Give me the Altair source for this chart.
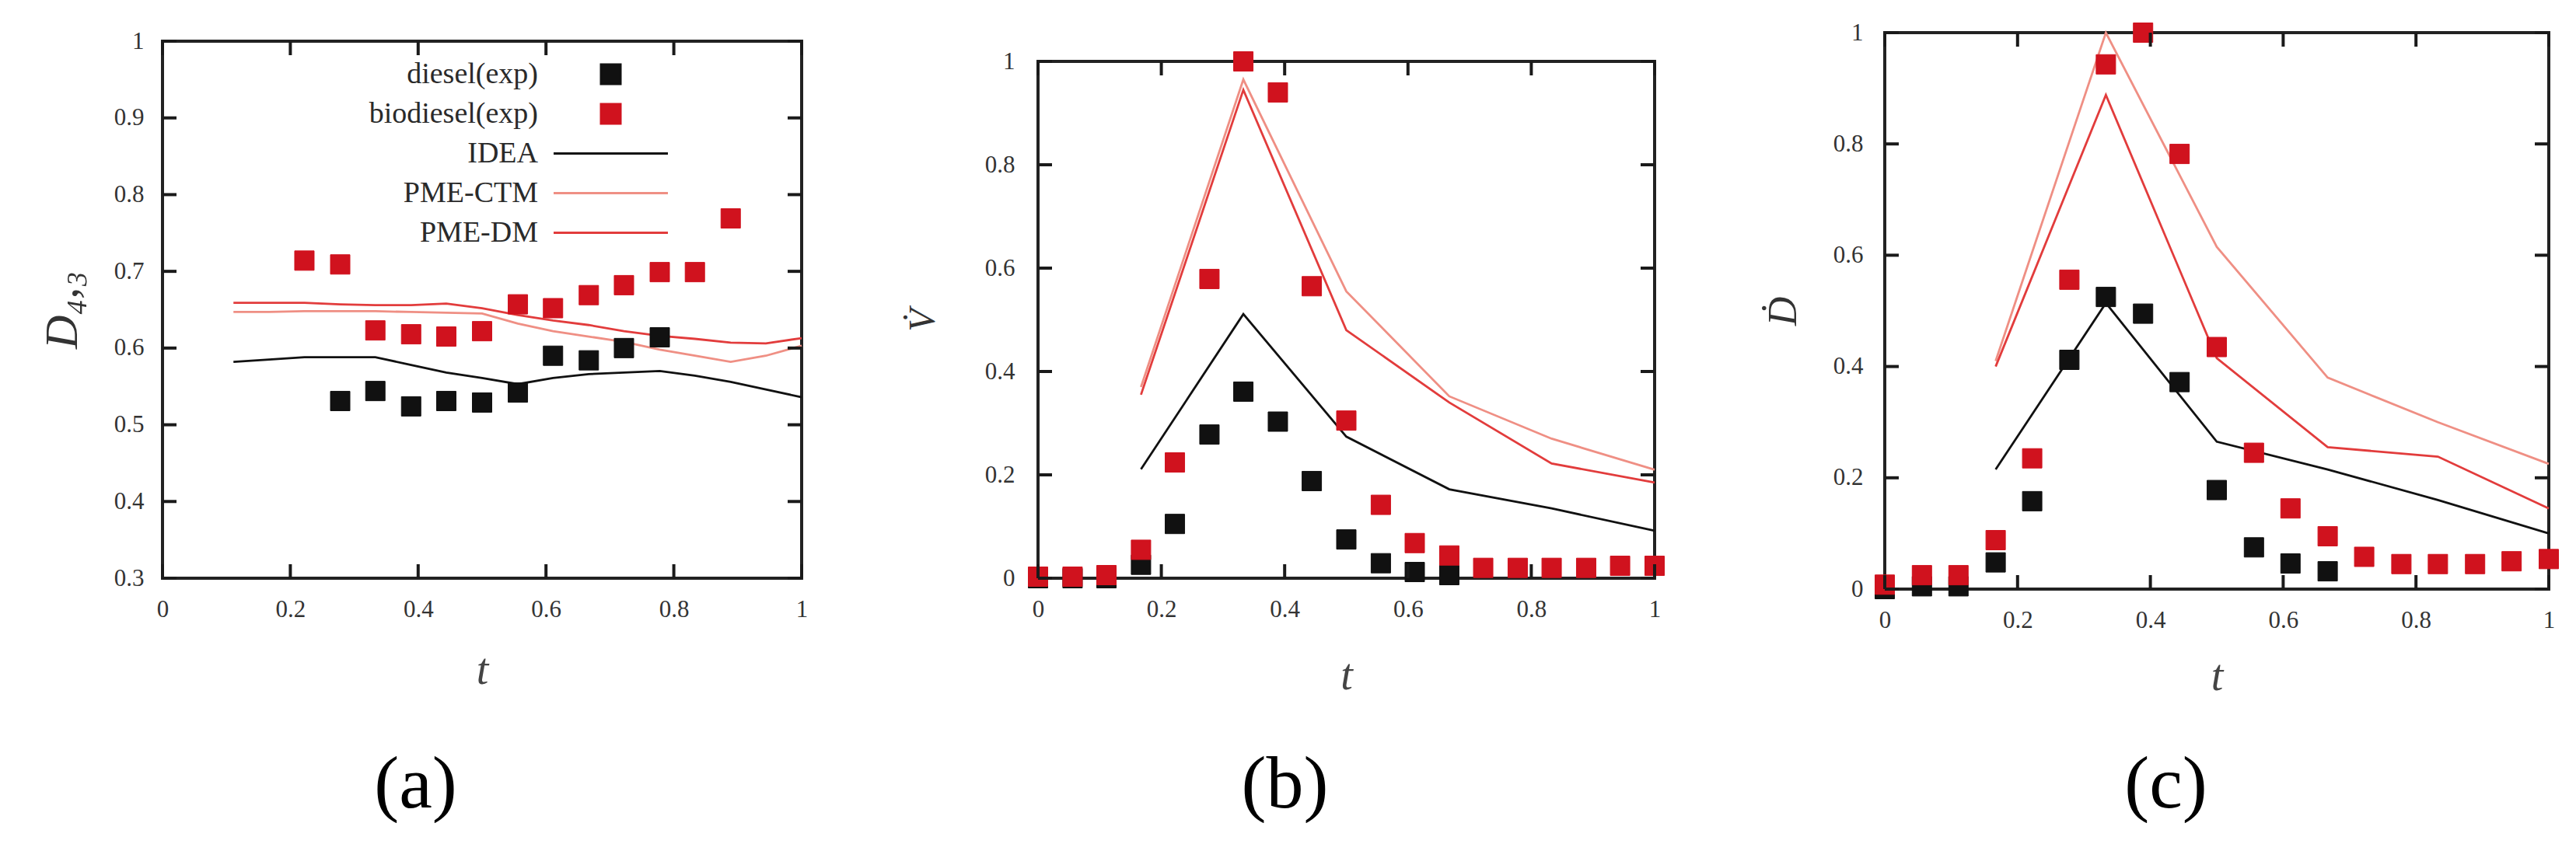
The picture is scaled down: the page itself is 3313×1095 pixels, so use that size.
import altair as alt
import pandas as pd

# ---------------- data ----------------
SERIES = ["diesel(exp)", "biodiesel(exp)", "IDEA", "PME-CTM", "PME-DM"]
SERIES_COLORS = ["#111111", "#d0121e", "#111111", "#ef8f84", "#e23c3c"]
SQUARE = "M-0.5,-0.5H0.5V0.5H-0.5Z"
LEG_SQUARE = "M4.3,-0.5H5.3V0.5H4.3Z"
LEG_LINE = "M1.86,0H7.74"
LEGEND_SHAPES = [LEG_SQUARE, LEG_SQUARE, LEG_LINE, LEG_LINE, LEG_LINE]

X_TICKS = [0, 0.2, 0.4, 0.6, 0.8, 1]
Y_TICKS_A = [0.3, 0.4, 0.5, 0.6, 0.7, 0.8, 0.9, 1]
Y_TICKS_BC = [0, 0.2, 0.4, 0.6, 0.8, 1]

X_EXP = [0.0, 0.056, 0.111, 0.167, 0.222, 0.278, 0.333, 0.389, 0.444, 0.5,
         0.556, 0.611, 0.667, 0.722, 0.778, 0.833, 0.889, 0.944, 1.0]

# panel (a): D43
A_DIESEL_X = [0.278, 0.333, 0.389, 0.444, 0.5, 0.556, 0.611, 0.667, 0.722, 0.778]
A_DIESEL_Y = [0.531, 0.544, 0.524, 0.531, 0.529, 0.542, 0.590, 0.584, 0.600, 0.614]
A_BIO_X = [0.222, 0.278, 0.333, 0.389, 0.444, 0.5, 0.556, 0.611, 0.667, 0.722, 0.778, 0.833, 0.889]
A_BIO_Y = [0.714, 0.709, 0.623, 0.618, 0.615, 0.622, 0.657, 0.652, 0.669, 0.682, 0.699, 0.699, 0.769]
A_MODEL_X = [0.111, 0.167, 0.222, 0.278, 0.333, 0.389, 0.444, 0.5, 0.556,
             0.611, 0.667, 0.722, 0.778, 0.833, 0.889, 0.944, 1.0]
A_IDEA = [0.582, 0.585, 0.588, 0.588, 0.588, 0.578, 0.568, 0.561, 0.553,
          0.561, 0.566, 0.568, 0.570, 0.564, 0.556, 0.546, 0.536]
A_CTM = [0.647, 0.647, 0.648, 0.648, 0.648, 0.647, 0.646, 0.645, 0.632,
         0.622, 0.615, 0.608, 0.598, 0.590, 0.582, 0.590, 0.603]
A_DM = [0.659, 0.659, 0.659, 0.657, 0.656, 0.656, 0.658, 0.652, 0.643,
        0.636, 0.630, 0.622, 0.616, 0.612, 0.607, 0.606, 0.613]

# panel (b): V
B_DIESEL_X = X_EXP[:13]
B_DIESEL_Y = [0.0, 0.0, 0.0, 0.026, 0.105, 0.278, 0.361, 0.303, 0.188, 0.075, 0.029, 0.012, 0.006]
B_BIO_Y = [0.003, 0.003, 0.006, 0.055, 0.224, 0.579, 1.0, 0.94, 0.565, 0.305, 0.142,
           0.068, 0.044, 0.02, 0.02, 0.02, 0.02, 0.024, 0.024]
BC_MODEL_X = [0.167, 0.333, 0.5, 0.667, 0.833, 1.0]
B_IDEA = [0.211, 0.511, 0.274, 0.172, 0.135, 0.092]
B_CTM = [0.37, 0.965, 0.555, 0.352, 0.27, 0.21]
B_DM = [0.355, 0.945, 0.48, 0.34, 0.222, 0.185]

# panel (c): D-dot
C_DIESEL_X = X_EXP[:13]
C_DIESEL_Y = [0.0, 0.005, 0.005, 0.048, 0.158, 0.412, 0.525, 0.495, 0.372, 0.178, 0.075, 0.046, 0.032]
C_BIO_Y = [0.008, 0.025, 0.025, 0.088, 0.235, 0.556, 0.943, 1.0, 0.782, 0.435, 0.245,
           0.145, 0.095, 0.058, 0.045, 0.045, 0.045, 0.05, 0.054]
C_IDEA = [0.215, 0.514, 0.265, 0.215, 0.16, 0.10]
C_CTM = [0.41, 1.0, 0.615, 0.38, 0.3, 0.225]
C_DM = [0.40, 0.888, 0.415, 0.255, 0.238, 0.145]


def pts_frame(dx, dy, bx, by):
    rows = [{"x": a, "y": b, "series": SERIES[0]} for a, b in zip(dx, dy)]
    rows += [{"x": a, "y": b, "series": SERIES[1]} for a, b in zip(bx, by)]
    return pd.DataFrame(rows)


def lines_frame(mx, idea, ctm, dm):
    rows = []
    for name, vals in ((SERIES[2], idea), (SERIES[3], ctm), (SERIES[4], dm)):
        rows += [{"x": a, "y": b, "series": name} for a, b in zip(mx, vals)]
    return pd.DataFrame(rows)


FONT = "Liberation Serif"
TL = 18
LBL = 31
TICK_COLOR = "#1a1a1a"
TICK_W = 4


def panel(pts, lines, ydom, yticks, ytitle, ytitle_size, ylab_pad, ytitle_pad,
          W, H, t_y, label, label_x, label_y, legend, spacer_h):
    xs = alt.Scale(domain=[0, 1], nice=False, zero=False)
    ys = alt.Scale(domain=ydom, nice=False, zero=False)
    common = dict(ticks=False, domain=False, grid=False, zindex=2)
    bottom = alt.Axis(orient="bottom", values=X_TICKS, format="~g",
                      labelFont=FONT, labelFontSize=LBL, labelColor="#333",
                      labelPadding=25, labelFlush=False, labelOverlap=False,
                      title="t", titleFont=FONT, titleFontStyle="italic",
                      titleFontWeight="normal", titleFontSize=56, titleColor="#444",
                      titleX=W / 2, titleY=t_y - 16, titleAlign="center",
                      titleBaseline="middle", **common)
    left = alt.Axis(orient="left", values=yticks, format="~g",
                    labelFont=FONT, labelFontSize=LBL, labelColor="#333",
                    labelPadding=ylab_pad, labelFlush=False, labelOverlap=False,
                    title=ytitle, titleFont=FONT, titleFontStyle="italic",
                    titleFontWeight="normal", titleFontSize=ytitle_size,
                    titleColor="#333", titlePadding=ytitle_pad, **common)
    top = alt.Axis(orient="top", values=X_TICKS, labels=False, title=" ",
                   titleFontSize=10, titlePadding=10, **common)
    right = alt.Axis(orient="right", values=yticks, labels=False, title=None, **common)
    caption = alt.Axis(orient="bottom", labels=False, ticks=False, domain=False,
                       grid=False, title=label, titleFont=FONT, titleFontSize=96,
                       titleFontWeight="normal", titleColor="#000",
                       titleX=label_x, titleY=label_y, titleAlign="center",
                       titleBaseline="middle")

    color_scale = alt.Scale(domain=SERIES, range=SERIES_COLORS)
    shape_scale = alt.Scale(domain=SERIES, range=LEGEND_SHAPES)

    line_layer = alt.Chart(lines).mark_line(strokeWidth=2.8).encode(
        x=alt.X("x:Q", scale=xs, axis=bottom),
        y=alt.Y("y:Q", scale=ys, axis=left),
        stroke=alt.Stroke("series:N", scale=color_scale, legend=legend),
    )
    point_layer = alt.Chart(pts).mark_point(filled=True, size=2500, opacity=1,
                                            strokeWidth=1, shape=SQUARE).encode(
        x=alt.X("x:Q", scale=xs, axis=None),
        y=alt.Y("y:Q", scale=ys, axis=None),
        fill=alt.Fill("series:N", scale=color_scale, legend=legend),
        stroke=alt.Stroke("series:N", scale=color_scale, legend=legend),
    )
    tick_layer = alt.Chart(pts).mark_point(opacity=0).encode(
        x=alt.X("x:Q", scale=xs, axis=top),
        y=alt.Y("y:Q", scale=ys, axis=right),
    )
    caption_layer = alt.Chart(pts).mark_point(opacity=0).encode(
        x=alt.X("x:Q", scale=xs, axis=caption),
        y=alt.Y("y:Q", scale=ys, axis=None),
    )

    # inward tick marks on all four sides (gnuplot style), placed by the scales
    xt = pd.DataFrame({"v": X_TICKS})
    yt = pd.DataFrame({"v": yticks})
    rule = dict(color=TICK_COLOR, strokeWidth=TICK_W)
    xt_bottom = alt.Chart(xt).mark_rule(**rule).encode(
        x=alt.X("v:Q", scale=xs, axis=None), y=alt.value(H - TL), y2=alt.value(H))
    xt_top = alt.Chart(xt).mark_rule(**rule).encode(
        x=alt.X("v:Q", scale=xs, axis=None), y=alt.value(0), y2=alt.value(TL))
    yt_left = alt.Chart(yt).mark_rule(**rule).encode(
        y=alt.Y("v:Q", scale=ys, axis=None), x=alt.value(0), x2=alt.value(TL))
    yt_right = alt.Chart(yt).mark_rule(**rule).encode(
        y=alt.Y("v:Q", scale=ys, axis=None), x=alt.value(W - TL), x2=alt.value(W))

    layers = [line_layer, point_layer, tick_layer, caption_layer,
              xt_bottom, xt_top, yt_left, yt_right]
    if legend is not None:
        legend_layer = alt.Chart(pts).transform_filter("false").mark_point(
            filled=True, size=2500, opacity=1, strokeWidth=1
        ).encode(
            x=alt.X("x:Q", scale=xs, axis=None),
            y=alt.Y("y:Q", scale=ys, axis=None),
            fill=alt.Fill("series:N", scale=color_scale, legend=legend),
            stroke=alt.Stroke("series:N", scale=color_scale, legend=legend),
            shape=alt.Shape("series:N", scale=shape_scale, legend=legend),
        )
        layers.append(legend_layer)
    body = alt.layer(*layers).resolve_axis(
        x="independent", y="independent"
    ).properties(width=W, height=H)

    spacer = alt.Chart(pd.DataFrame({"v": [0]})).mark_point(opacity=0).encode(
        x=alt.X("v:Q", axis=None), y=alt.Y("v:Q", axis=None)
    ).properties(width=10, height=spacer_h,
                 view=alt.ViewBackground(stroke="transparent"))
    return alt.vconcat(spacer, body, spacing=0)


legend_a = alt.Legend(orient="none", legendX=430, legendY=59, title=None,
                      labelAlign="right", labelOffset=0, symbolOffset=0,
                      symbolSize=2500, labelFont=FONT, labelFontSize=38,
                      labelColor="#2a2a2a", labelLimit=600, symbolStrokeWidth=3,
                      rowPadding=5, padding=0)

pa = panel(pts_frame(A_DIESEL_X, A_DIESEL_Y, A_BIO_X, A_BIO_Y),
           lines_frame(A_MODEL_X, A_IDEA, A_CTM, A_DM),
           [0.3, 1.0], Y_TICKS_A, "D₄,₃", 60, 24, 35,
           822, 691, 134, "(a)", 325, 265, legend_a, 19)
pb = panel(pts_frame(B_DIESEL_X, B_DIESEL_Y, X_EXP, B_BIO_Y),
           lines_frame(BC_MODEL_X, B_IDEA, B_CTM, B_DM),
           [0.0, 1.0], Y_TICKS_BC, "V̇", 48, 30, 55,
           793, 665, 141, "(b)", 317, 265, None, 45)
pc = panel(pts_frame(C_DIESEL_X, C_DIESEL_Y, X_EXP, C_BIO_Y),
           lines_frame(BC_MODEL_X, C_IDEA, C_CTM, C_DM),
           [0.0, 1.0], Y_TICKS_BC, "Ḋ", 52, 28, 37,
           854, 716, 128, "(c)", 361, 251, None, 8)

chart = alt.hconcat(pa, pb, pc, spacing=120).resolve_scale(
    fill="independent", stroke="independent", shape="independent"
).properties(
    padding={"left": 40, "top": 0, "right": 0, "bottom": 0},
    background="white",
).configure_view(stroke="#222", strokeWidth=4)

chart.save("out.html", embed_options={"renderer": "svg", "actions": False})
